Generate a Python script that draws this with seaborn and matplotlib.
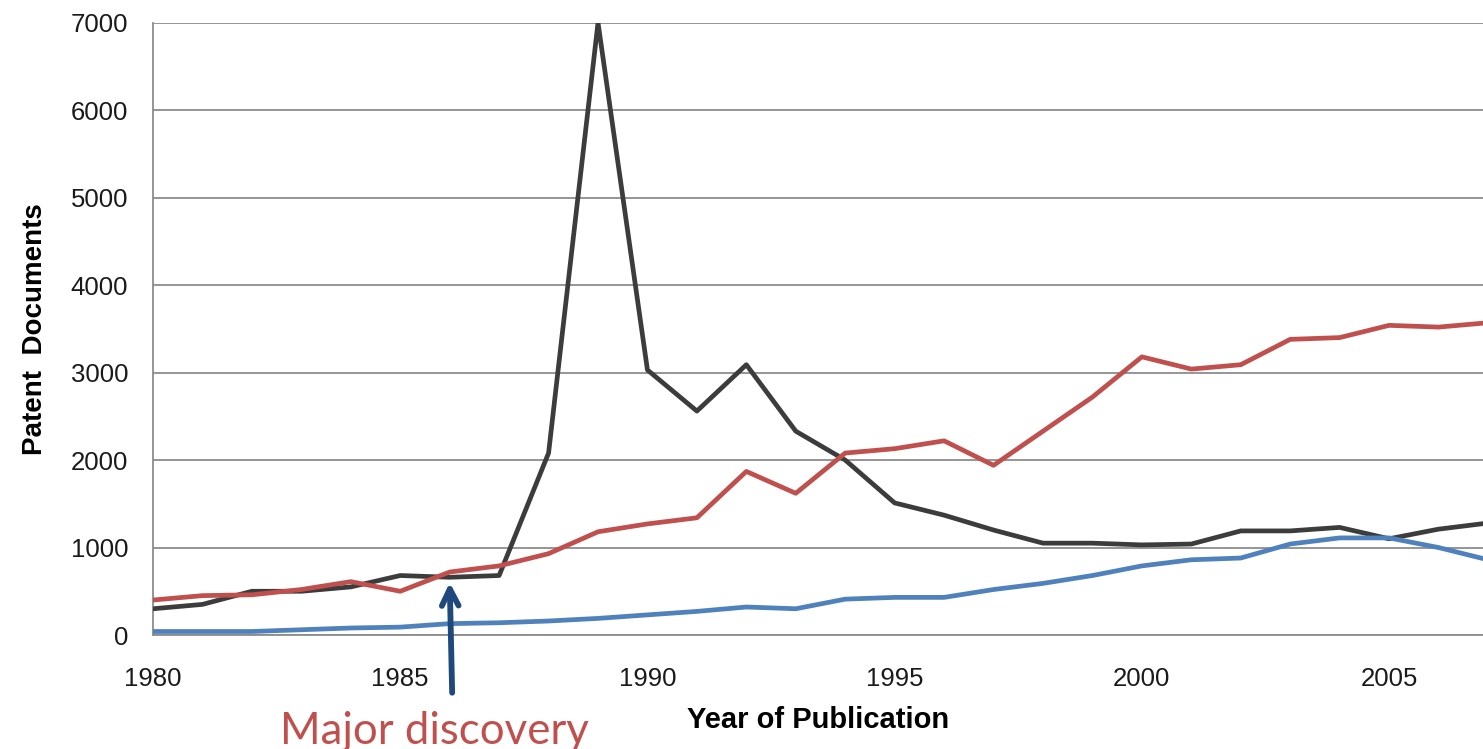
import pandas as pd
import matplotlib
matplotlib.use("Agg")
import matplotlib.pyplot as plt
import seaborn as sns

years = list(range(1980, 2008))
black_vals = [300, 350, 500, 500, 550, 680, 660, 680, 2080, 7000, 3030, 2560, 3090, 2330, 2000,
              1510, 1370, 1200, 1050, 1050, 1030, 1040, 1190, 1190, 1230, 1100, 1210, 1280]
red_vals = [400, 450, 460, 520, 610, 500, 720, 790, 930, 1180, 1270, 1340, 1870, 1620, 2080,
            2130, 2220, 1940, 2330, 2720, 3180, 3040, 3090, 3380, 3400, 3540, 3520, 3570]
blue_vals = [40, 40, 40, 60, 80, 90, 130, 140, 160, 190, 230, 270, 320, 300, 410,
             430, 430, 520, 590, 680, 790, 860, 880, 1040, 1110, 1110, 1000, 860]
series_names = ["Series 1", "Series 2", "Series 3"]
series_colors = ["#3c3c3c", "#c0504d", "#4f81bd"]
y_ticks = [0, 1000, 2000, 3000, 4000, 5000, 6000, 7000]
x_ticks = [1980, 1985, 1990, 1995, 2000, 2005]
discovery_year = 1986

df = pd.DataFrame({
    "year": years * 3,
    "count": black_vals + red_vals + blue_vals,
    "series": [series_names[0]] * len(years) + [series_names[1]] * len(years) + [series_names[2]] * len(years),
})

sns.set_style("white")
plt.rcParams["font.family"] = ["Liberation Sans", "DejaVu Sans"]

fig = plt.figure(figsize=(14.83, 7.49), dpi=100)
ax = fig.add_axes([0.1032, 0.1522, 0.8968, 0.8175])

sns.lineplot(data=df, x="year", y="count", hue="series", palette=series_colors,
             linewidth=3.4, legend=False, ax=ax, zorder=3)

ax.set_xlim(1980, 2006.9)
ax.set_ylim(0, 7000)
ax.set_xticks(x_ticks)
ax.set_yticks(y_ticks)
ax.grid(axis="y", color="#8c8c8c", linewidth=1.3)
ax.set_axisbelow(True)
for side in ["top", "right"]:
    ax.spines[side].set_visible(False)
for side in ["left", "bottom"]:
    ax.spines[side].set_color("#8c8c8c")
    ax.spines[side].set_linewidth(1.3)
ax.tick_params(axis="both", which="both", width=1.3, color="#8c8c8c",
               labelsize=18.5, labelcolor="#1a1a1a", direction="out")
ax.tick_params(axis="x", length=8, pad=15)
ax.tick_params(axis="y", length=6, pad=12)

ax.set_xlabel("Year of Publication", fontsize=21, fontweight="bold", color="black", labelpad=11)
ax.set_ylabel("Patent  Documents", fontsize=20, fontweight="bold", color="black", labelpad=16)

ax.annotate("", xy=(discovery_year, 600), xytext=(discovery_year + 0.05, -660),
            xycoords="data", textcoords="data", annotation_clip=False,
            arrowprops=dict(arrowstyle="->", color="#1f497d", lw=4.2,
                            mutation_scale=30, shrinkA=0, shrinkB=0))
ax.text(discovery_year - 0.3, -1100, "Major discovery", color="#c0504d", fontsize=31.5,
        family=["Lato", "DejaVu Sans"], ha="center", va="center", clip_on=False)

fig.savefig("out.png", dpi=100)
